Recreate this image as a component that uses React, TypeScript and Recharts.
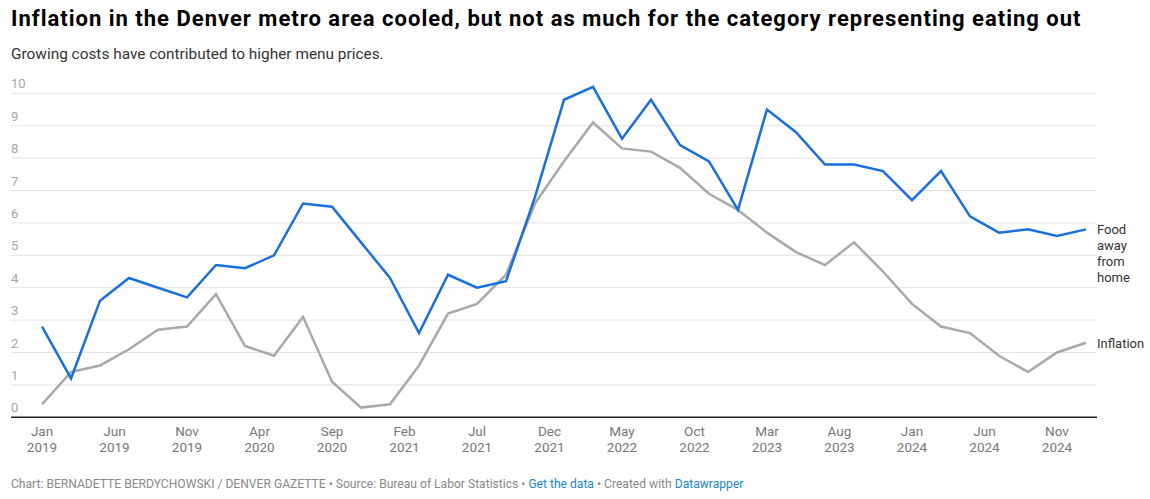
import React from 'react';
import { LineChart, Line, XAxis, YAxis, ReferenceLine, LabelList } from 'recharts';

// Denver CPI is published every other month, Jan 2019 – Jan 2025
const periods = [
  'Jan 2019', 'Mar 2019', 'May 2019', 'Jul 2019', 'Sep 2019', 'Nov 2019',
  'Jan 2020', 'Mar 2020', 'May 2020', 'Jul 2020', 'Sep 2020', 'Nov 2020',
  'Jan 2021', 'Mar 2021', 'May 2021', 'Jul 2021', 'Sep 2021', 'Nov 2021',
  'Jan 2022', 'Mar 2022', 'May 2022', 'Jul 2022', 'Sep 2022', 'Nov 2022',
  'Jan 2023', 'Mar 2023', 'May 2023', 'Jul 2023', 'Sep 2023', 'Nov 2023',
  'Jan 2024', 'Mar 2024', 'May 2024', 'Jul 2024', 'Sep 2024', 'Nov 2024',
  'Jan 2025',
];

const foodAwayFromHome = [
  2.8, 1.2, 3.6, 4.3, 4.0, 3.7,
  4.7, 4.6, 5.0, 6.6, 6.5, 5.4,
  4.3, 2.6, 4.4, 4.0, 4.2, 6.8,
  9.8, 10.2, 8.6, 9.8, 8.4, 7.9,
  6.4, 9.5, 8.8, 7.8, 7.8, 7.6,
  6.7, 7.6, 6.2, 5.7, 5.8, 5.6,
  5.8,
];

const inflation = [
  0.4, 1.4, 1.6, 2.1, 2.7, 2.8,
  3.8, 2.2, 1.9, 3.1, 1.1, 0.3,
  0.4, 1.6, 3.2, 3.5, 4.4, 6.6,
  7.9, 9.1, 8.3, 8.2, 7.7, 6.9,
  6.4, 5.7, 5.1, 4.7, 5.4, 4.5,
  3.5, 2.8, 2.6, 1.9, 1.4, 2.0,
  2.3,
];

const xTickLabels = [
  'Jan 2019', 'Jun 2019', 'Nov 2019', 'Apr 2020', 'Sep 2020', 'Feb 2021', 'Jul 2021',
  'Dec 2021', 'May 2022', 'Oct 2022', 'Mar 2023', 'Aug 2023', 'Jan 2024', 'Jun 2024',
  'Nov 2024',
];

const yTicks = [0, 1, 2, 3, 4, 5, 6, 7, 8, 9, 10];

const MONTHS = ['Jan', 'Feb', 'Mar', 'Apr', 'May', 'Jun', 'Jul', 'Aug', 'Sep', 'Oct', 'Nov', 'Dec'];

// months since Jan 2019
const monthIndex = (label: string) => {
  const [mon, yr] = label.split(' ');
  return (Number(yr) - 2019) * 12 + MONTHS.indexOf(mon);
};

const data = periods.map((p, i) => ({
  m: monthIndex(p),
  food: foodAwayFromHome[i],
  inflation: inflation[i],
}));

const xTicks = xTickLabels.map(monthIndex);
const tickLabelByIndex: Record<number, string> = {};
xTickLabels.forEach((l) => (tickLabelByIndex[monthIndex(l)] = l));

const BLUE = '#1a6fde';
const GREY = '#a9a9a9';
const FONT = 'Roboto, "Noto Sans", sans-serif';
const PLOT_LEFT = 11;

const YTick = (props: any) => {
  const { y, payload } = props;
  return (
    <text x={PLOT_LEFT} y={y - 5} fill="#a6a6a6" fontSize={13} fontFamily={FONT}>
      {payload.value}
    </text>
  );
};

const XTick = (props: any) => {
  const { x, y, payload } = props;
  const [mon, yr] = tickLabelByIndex[payload.value].split(' ');
  return (
    <text x={x} y={y} textAnchor="middle" fill="#777" fontSize={13.5} fontFamily={FONT}>
      <tspan x={x} dy={11}>{mon}</tspan>
      <tspan x={x} dy={15.5}>{yr}</tspan>
    </text>
  );
};

const endLabel = (lines: string[]) => (props: any) => {
  const { x, y, index } = props;
  if (index !== data.length - 1) return null;
  return (
    <text x={x + 11} y={y} fill="#333" fontSize={13} fontFamily={FONT} dominantBaseline="central">
      {lines.map((l, i) => (
        <tspan key={l} x={x + 11} dy={i === 0 ? 0 : 16}>{l}</tspan>
      ))}
    </text>
  );
};

const App = () => {
  return (
    <div style={{ position: 'relative', width: 1150, height: 499, background: '#fff', fontFamily: FONT, overflow: 'hidden' }}>
      <style>{'body{margin:0}'}</style>
      <div style={{ position: 'absolute', left: 11, top: 6, fontSize: 22, fontWeight: 700, letterSpacing: 1, color: '#000', whiteSpace: 'nowrap' }}>
        Inflation in the Denver metro area cooled, but not as much for the category representing eating out
      </div>
      <div style={{ position: 'absolute', left: 11, top: 45, fontSize: 15.4, color: '#333', whiteSpace: 'nowrap' }}>
        Growing costs have contributed to higher menu prices.
      </div>
      <div style={{ position: 'absolute', left: 0, top: 0 }}>
        <LineChart
          width={1150}
          height={499}
          data={data}
          margin={{ top: 77.1, right: 53, bottom: 51.7, left: PLOT_LEFT - 1 }}
        >
          <XAxis
            type="number"
            dataKey="m"
            domain={[-2.14, 72.76]}
            ticks={xTicks}
            tick={<XTick />}
            tickLine={false}
            axisLine={{ stroke: '#222', strokeWidth: 1.5 }}
            height={30}
            interval={0}
          />
          <YAxis
            width={1}
            domain={[0, 10.5]}
            ticks={yTicks}
            tick={<YTick />}
            axisLine={false}
            tickLine={false}
            interval={0}
          />
          {/* gridlines only at the labelled values */}
          {yTicks.slice(1).map((t) => (
            <ReferenceLine key={t} y={t} stroke="#e3e3e3" strokeWidth={1} />
          ))}
          <Line
            type="linear"
            dataKey="inflation"
            stroke={GREY}
            strokeWidth={2.5}
            dot={false}
            isAnimationActive={false}
          >
            <LabelList dataKey="inflation" content={endLabel(['Inflation'])} />
          </Line>
          <Line
            type="linear"
            dataKey="food"
            stroke={BLUE}
            strokeWidth={2.5}
            dot={false}
            isAnimationActive={false}
          >
            <LabelList dataKey="food" content={endLabel(['Food', 'away', 'from', 'home'])} />
          </Line>
        </LineChart>
      </div>
      <div style={{ position: 'absolute', left: 11, top: 477, fontSize: 12.1, color: '#888', whiteSpace: 'nowrap' }}>
        Chart: BERNADETTE BERDYCHOWSKI / DENVER GAZETTE • Source: Bureau of Labor Statistics •{' '}
        <span style={{ color: '#1d87c9' }}>Get the data</span> • Created with{' '}
        <span style={{ color: '#1d87c9' }}>Datawrapper</span>
      </div>
    </div>
  );
};

export default App;
